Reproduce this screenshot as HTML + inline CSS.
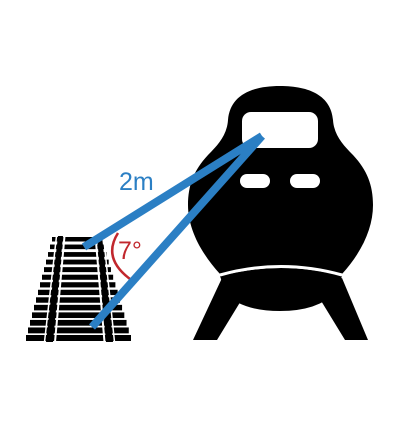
<!DOCTYPE html>
<html><head><meta charset="utf-8"><style>
html,body{margin:0;padding:0;background:#fff;}
svg{display:block;}
</style></head><body>
<svg width="400" height="430" viewBox="0 0 400 430">
  <g>
    <g id="ties"></g>
    <polygon points="58,236 63,236 53,342 46,342" fill="#000"/>
    <polygon points="97,236 102,236 113,342 106,342" fill="#000"/>
    <line x1="64.5" y1="236" x2="55" y2="342" stroke="#fff" stroke-width="2"/>
    <line x1="95.5" y1="236" x2="104.5" y2="342" stroke="#fff" stroke-width="2"/>
    <line x1="56.5" y1="236" x2="44.5" y2="342" stroke="#fff" stroke-width="1.5"/>
    <line x1="103.5" y1="236" x2="114.5" y2="342" stroke="#fff" stroke-width="1.5"/>
  </g>
  <g>
    <polygon points="222,278 250,286 217,340 193,340" fill="#000"/>
    <polygon points="312,286 342,278 368,340 345,340" fill="#000"/>
    <path d="M220,276 Q281,260 342,276 L336,292 Q318,311 280,311 Q243,311 226,294 Z" fill="#000"/>
    <path d="M280,86 C250,86 230,96 228,120 C227,135 218,145 208,155 C194,170 188,185 188,205 C188,228 200,252 220,274 Q281,258 342,274 C362,252 373,228 373,205 C373,185 367,170 353,155 C343,145 334,135 333,120 C331,96 310,86 280,86 Z" fill="#000"/>
    <rect x="242" y="112" width="76" height="36" rx="9" fill="#fff"/>
    <rect x="240" y="174" width="30" height="14" rx="7" fill="#fff"/>
    <rect x="290" y="174" width="30" height="14" rx="7" fill="#fff"/>
    <path d="M220,275 Q281,258 342,275" stroke="#fff" stroke-width="3" fill="none"/>
  </g>
  <path d="M118,233 Q102,258 130,279" stroke="#c1272d" stroke-width="2.5" fill="none"/>
  <text x="118" y="259" font-family="Liberation Sans, sans-serif" font-size="25" fill="#c1272d">7°</text>
  <g stroke="#2b7fc4" stroke-width="8" stroke-linecap="butt">
    <line x1="84" y1="247" x2="262" y2="136"/>
    <line x1="92" y1="327" x2="262" y2="136"/>
  </g>
  <text x="119" y="190" font-family="Liberation Sans, sans-serif" font-size="25" fill="#2b7fc4">2m</text>
</svg>
<script>
var g=document.getElementById('ties');
var n=14;
for(var i=0;i<n;i++){
  var t=i/(n-1);
  var y=237+t*98;
  var xl=52-t*26, xr=102+t*29;
  var r=document.createElementNS('http://www.w3.org/2000/svg','rect');
  r.setAttribute('x',xl);r.setAttribute('y',y);
  r.setAttribute('width',xr-xl);r.setAttribute('height',4.5+t*1.5);
  r.setAttribute('fill','#000');
  
  
  g.appendChild(r);
}
</script>
</body></html>
